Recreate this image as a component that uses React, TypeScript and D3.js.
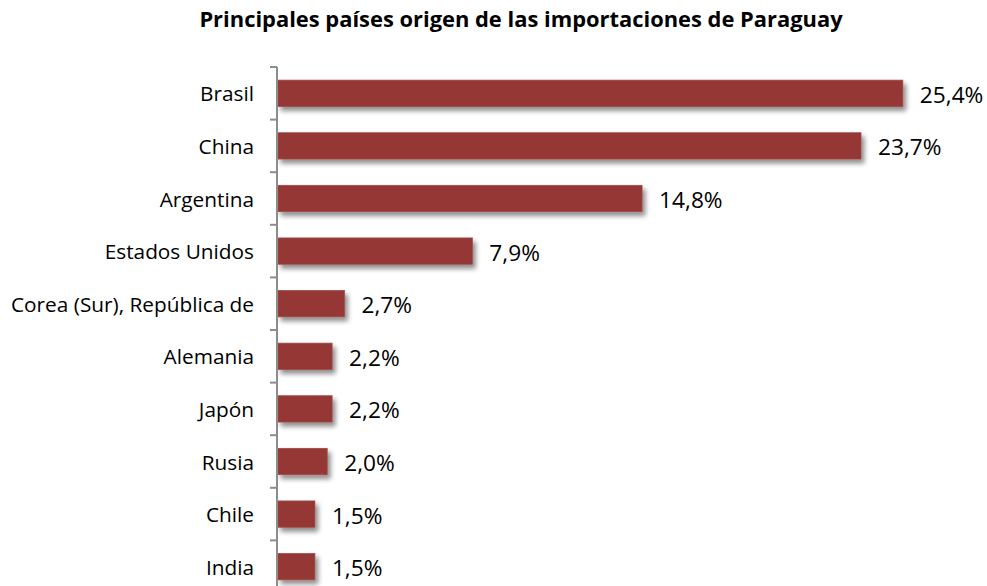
import React from "react";
import * as d3 from "d3";

const countries = [
  "Brasil",
  "China",
  "Argentina",
  "Estados Unidos",
  "Corea (Sur), República de",
  "Alemania",
  "Japón",
  "Rusia",
  "Chile",
  "India",
];
const shares = [25.4, 23.7, 14.8, 7.9, 2.7, 2.2, 2.2, 2.0, 1.5, 1.5];
const title = "Principales países origen de las importaciones de Paraguay";

const W = 987;
const H = 586;
const font = "'Open Sans', Lato, sans-serif";

export default function App() {
  const x0 = 278;
  const x = d3.scaleLinear().domain([0, 10]).range([x0, x0 + 246]);
  const y = d3.scaleBand<string>().domain(countries).range([67, 67 + 52.6 * countries.length]).paddingInner(0.5).paddingOuter(0.25);
  const step = y.step();
  const fmt = (v: number) => v.toFixed(1).replace(".", ",") + "%";
  const ticks = d3.range(countries.length + 1).map((i) => 67 + i * step);

  return (
    <svg width={W} height={H} style={{ position: "absolute", left: 0, top: 0, background: "#fff" }}>
      <defs>
        <filter id="barShadow" x="-10%" y="-30%" width="130%" height="190%">
          <feGaussianBlur in="SourceAlpha" stdDeviation="2.5" />
          <feOffset dx="3" dy="4" result="blur" />
          <feComponentTransfer>
            <feFuncA type="linear" slope="0.45" />
          </feComponentTransfer>
          <feMerge>
            <feMergeNode />
            <feMergeNode in="SourceGraphic" />
          </feMerge>
        </filter>
      </defs>
      <text x={521} y={27} textAnchor="middle" fontFamily={font} fontWeight={700} fontSize={21.9} fill="#000">
        {title}
      </text>
      {countries.map((c, i) => (
        <g key={c}>
          <rect
            x={x(0)}
            y={y(c)!}
            width={x(shares[i]) - x(0)}
            height={y.bandwidth()}
            fill="#953735"
            stroke="#a04a48"
            strokeWidth={0.8}
            filter="url(#barShadow)"
          />
          <text x={254} y={y(c)! + y.bandwidth() / 2} textAnchor="end" dominantBaseline="central" fontFamily={font} fontSize={20.8} fill="#000">
            {c}
          </text>
          <text x={x(shares[i]) + 17} y={y(c)! + y.bandwidth() / 2 + 1} dominantBaseline="central" fontFamily={font} fontSize={22.7} fill="#000">
            {fmt(shares[i])}
          </text>
        </g>
      ))}
      <line x1={277} x2={277} y1={67} y2={H} stroke="#8c8c8c" strokeWidth={2} />
      {ticks.map((t, i) => (
        <line key={i} x1={270} x2={277} y1={t} y2={t} stroke="#8c8c8c" strokeWidth={2} />
      ))}
    </svg>
  );
}
